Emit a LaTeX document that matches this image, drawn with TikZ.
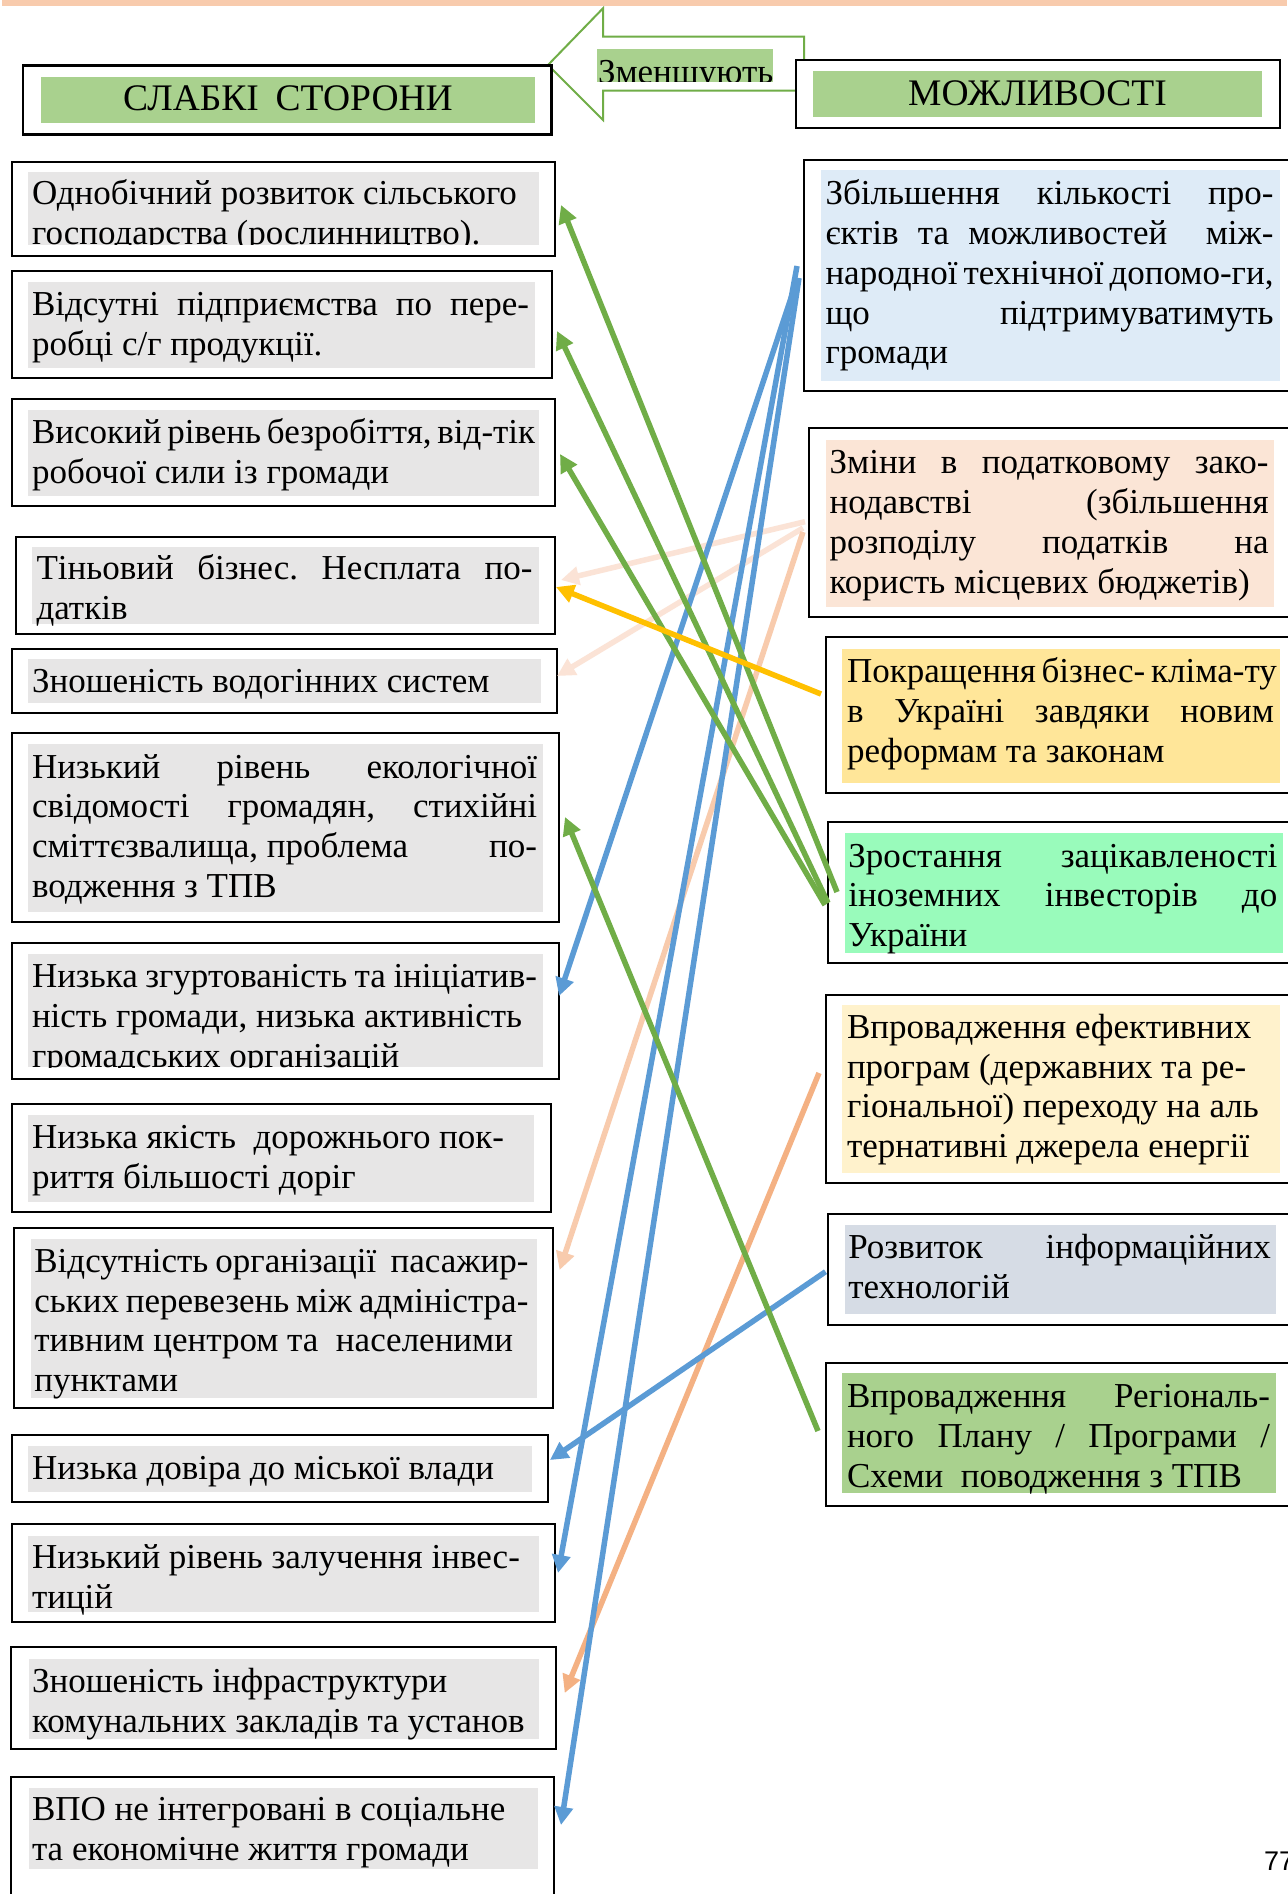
\documentclass[tikz,border=0pt]{standalone}
\usepackage{fontspec}
\setmainfont{Liberation Serif}
\newfontfamily\pnfont{Liberation Sans}
\usetikzlibrary{arrows.meta}
\frenchspacing
\definecolor{grayfill}{HTML}{E7E6E6}
\definecolor{hdrgreen}{HTML}{A9D18E}
\definecolor{lblue}{HTML}{DEEBF7}
\definecolor{lpeach}{HTML}{FBE5D6}
\definecolor{gold}{HTML}{FFE699}
\definecolor{mint}{HTML}{99FBBB}
\definecolor{lyellow}{HTML}{FFF2CC}
\definecolor{bluegray}{HTML}{D6DCE5}
\definecolor{agreen}{HTML}{70AD47}
\definecolor{ablue}{HTML}{5B9BD5}
\definecolor{apale}{HTML}{FBE3D6}
\definecolor{apeach}{HTML}{F8CBAD}
\definecolor{aorange}{HTML}{F4B183}
\definecolor{ayellow}{HTML}{FFC000}
\definecolor{band}{HTML}{F8CBAD}
\newlength\tw
\newcommand\myJ[1]{\hbox to\tw{#1}}
\newcommand\myL[1]{\hbox to\tw{#1\hfil}}
\newcommand\tblock[3][40]{\vtop{\frenchspacing\tw=#2pt\relax\hsize=\tw\baselineskip=#1pt\lineskiplimit=-100pt\relax #3}}
\tikzset{
  obox/.style={draw=black, line width=2pt, fill=white, anchor=north west, inner sep=0pt, outer sep=0pt},
  hbox/.style={draw=black, line width=2.6pt, fill=white, anchor=north west, inner sep=0pt, outer sep=0pt},
  txt/.style={anchor=base west, inner sep=0pt, outer sep=0pt, yshift=-2pt, font=\fontsize{35}{40}\selectfont},
  conn/.style={line width=5.5pt, -{Triangle[length=18pt,width=18pt]}},
}
\begin{document}
\begin{tikzpicture}[x=1pt,y=-1pt]
\useasboundingbox (0,0) rectangle (1287,1894);
\fill[white] (0,0) rectangle (1287,1894);
\fill[band] (2,0) rectangle (1287,6);

% ---- header arrow
\draw[agreen, line width=2pt, fill=white, line join=miter]
  (548,65) -- (603,8.3) -- (603,36.7) -- (804,36.7) -- (804,90.7) -- (603,90.7) -- (603,120) -- cycle;
\fill[hdrgreen] (597,49) rectangle (773,82);
\begin{scope}
  \clip (597,49) rectangle (773,82);
  \node[txt, yshift=2pt] (zm) at (598,84) {Зменшують};
\end{scope}

% ---- headers
\node[hbox, minimum width=528.6pt, minimum height=68.6pt] (HL) at (23,65.7) {};
\fill[hdrgreen] (41,76.7) rectangle (535,123.3);
\node[anchor=base, inner sep=0pt, font=\fontsize{37.5}{40}\selectfont] (HLt) at (288,111) {СЛАБКІ\hspace{0.45em}СТОРОНИ};

\node[hbox, minimum width=484pt, minimum height=68pt] (HR) at (796,60) {};
\fill[hdrgreen] (812.6,70.7) rectangle (1262,116.7);
\node[anchor=base, inner sep=0pt, font=\fontsize{37.5}{40}\selectfont] (HRt) at (1037.5,106) {МОЖЛИВОСТІ};

% ---- left column
% L1
\node[obox, minimum width=543.1pt, minimum height=94pt] (L1) at (11.6,161.7) {};
\fill[grayfill] (28,172) rectangle (539,245);
\begin{scope}\clip (28,172) rectangle (539,245);
\node[txt] (L1t) at (32,203) {\tblock{503}{\myL{Однобічний розвиток сільського}\myL{господарства (рослинництво).}}};
\end{scope}
% L2
\node[obox, minimum width=539.9pt, minimum height=107pt] (L2) at (11.6,271) {};
\fill[grayfill] (28,281.7) rectangle (535,367.7);
\node[txt] (L2t) at (32,313) {\tblock{497}{\myJ{Відсутні підприємства по пере-}\myL{робці с/г продукції.}}};
% L3
\node[obox, minimum width=543.1pt, minimum height=107pt] (L3) at (11.6,399) {};
\fill[grayfill] (28,410) rectangle (539,496);
\node[txt] (L3t) at (32,441.7) {\tblock{502}{\myJ{Високий рівень безробіття, від-тік}\myL{робочої сили із громади}}};
% L4
\node[obox, minimum width=538.9pt, minimum height=97.3pt] (L4) at (15.8,536.7) {};
\fill[grayfill] (32,547) rectangle (539,624);
\node[txt] (L4t) at (36.5,577) {\tblock{496}{\myJ{Тіньовий бізнес. Несплата по-}\myL{датків}}};
% L5
\node[obox, minimum width=545.1pt, minimum height=63.7pt] (L5) at (11.6,649) {};
\fill[grayfill] (28,659) rectangle (541,702.7);
\node[txt] (L5t) at (32,690.7) {\tblock{505}{\myL{Зношеність водогінних систем}}};
% L6
\node[obox, minimum width=547.2pt, minimum height=188.7pt] (L6) at (11.6,733) {};
\fill[grayfill] (28,744) rectangle (543,911.7);
\node[txt] (L6t) at (32,776) {\tblock[39.7]{505}{\myJ{Низький рівень екологічної}\myJ{свідомості громадян, стихійні}\myJ{сміттєзвалища,\hspace{0.25em}проблема по-}\myL{водження з ТПВ}}};
% L7
\node[obox, minimum width=547.2pt, minimum height=136pt] (L7) at (11.6,942.7) {};
\fill[grayfill] (28,954) rectangle (543,1067);
\begin{scope}\clip (28,954) rectangle (543,1067);
\node[txt] (L7t) at (32,985) {\tblock{505}{\myJ{Низька згуртованість та ініціатив-}\myL{ність громади, низька активність}\myL{громадських організацій}}};
\end{scope}
% L8
\node[obox, minimum width=538.9pt, minimum height=107.7pt] (L8) at (11.6,1104) {};
\fill[grayfill] (28,1115) rectangle (534,1201.7);
\node[txt] (L8t) at (32,1146.7) {\tblock{500}{\myL{Низька якість~ дорожнього пок-}\myL{риття більшості доріг}}};
% L9
\node[obox, minimum width=538.8pt, minimum height=180.3pt] (L9) at (13.7,1227.7) {};
\fill[grayfill] (31,1239) rectangle (537,1397.7);
\node[txt] (L9t) at (34.4,1270.7) {\tblock[39.5]{494}{\myL{Відсутність організації~ пасажир-}\myL{ських перевезень між адміністра-}\myL{тивним центром та~ населеними}\myL{пунктами}}};
% L10
\node[obox, minimum width=536.8pt, minimum height=66.7pt] (L10) at (11.6,1435) {};
\fill[grayfill] (28,1446) rectangle (532,1491.7);
\node[txt] (L10t) at (32,1477.7) {\tblock{500}{\myL{Низька довіра до міської влади}}};
% L11
\node[obox, minimum width=543.1pt, minimum height=97.7pt] (L11) at (11.6,1524) {};
\fill[grayfill] (28,1536) rectangle (539,1611.7);
\node[txt] (L11t) at (32,1566) {\tblock{505}{\myL{Низький рівень залучення інвес-}\myL{тицій}}};
% L12
\node[obox, minimum width=545pt, minimum height=102pt] (L12) at (10.7,1647) {};
\fill[grayfill] (28.7,1659) rectangle (539,1739);
\node[txt] (L12t) at (32,1690) {\tblock{505}{\myL{Зношеність інфраструктури}\myL{комунальних закладів та установ}}};
% L13
\node[obox, minimum width=543.3pt, minimum height=140pt] (L13) at (10.7,1777) {};
\fill[grayfill] (28.7,1788) rectangle (537.6,1869);
\node[txt] (L13t) at (32,1818) {\tblock{505}{\myL{ВПО не інтегровані в соціальне}\myL{та економічне життя громади}}};

% ---- right column
% R1
\node[obox, minimum width=500pt, minimum height=230.7pt] (R1) at (804.4,160) {};
\fill[lblue] (820.6,170) rectangle (1279.7,380.7);
\node[txt] (R1t) at (825.5,203) {\tblock[39.7]{448}{\myJ{Збільшення кількості про-}\myJ{єктів та можливостей~ між-}\myJ{народної технічної допомо-ги,}\myJ{що підтримуватимуть}\myL{громади}}};
% R2
\node[obox, minimum width=500pt, minimum height=189pt] (R2) at (808.5,428.3) {};
\fill[lpeach] (825.5,440) rectangle (1273.7,606.7);
\node[txt] (R2t) at (829.6,471.7) {\tblock{439}{\myJ{Зміни в податковому зако-}\myJ{нодавстві (збільшення}\myJ{розподілу податків на}\myL{користь місцевих бюджетів)}}};
% R3
\node[obox, minimum width=500pt, minimum height=156pt] (R3) at (825.5,637.3) {};
\fill[gold] (841.8,649) rectangle (1279.7,782.7);
\node[txt] (R3t) at (847,680) {\tblock{427}{\myJ{Покращення бізнес- кліма-ту}\myJ{в Україні завдяки новим}\myL{реформам та законам}}};
% R4
\node[obox, minimum width=500pt, minimum height=141pt] (R4) at (827.6,822.3) {};
\fill[mint] (845,833.3) rectangle (1283,952.7);
\node[txt] (R4t) at (848.3,865) {\tblock[39.5]{429}{\myJ{Зростання зацікавленості}\myJ{іноземних інвесторів до}\myL{України}}};
% R5
\node[obox, minimum width=500pt, minimum height=188.1pt] (R5) at (825.5,994.6) {};
\fill[lyellow] (841.8,1005) rectangle (1279.7,1172.7);
\node[txt] (R5t) at (847,1036.7) {\tblock[39.5]{427}{\myL{Впровадження ефективних}\myL{програм (державних та ре-}\myL{гіональної) переходу на аль}\myL{тернативні джерела енергії}}};
% R6
\node[obox, minimum width=500pt, minimum height=111pt] (R6) at (827.6,1214) {};
\fill[bluegray] (845,1225) rectangle (1275.7,1314.3);
\node[txt] (R6t) at (848.3,1256) {\tblock{422.5}{\myJ{Розвиток інформаційних}\myL{технологій}}};
% R7
\node[obox, minimum width=500pt, minimum height=143.3pt] (R7) at (825.5,1362.7) {};
\fill[hdrgreen] (841.8,1373) rectangle (1275.7,1492.7);
\node[txt] (R7t) at (847,1405) {\tblock{423}{\myJ{Впровадження Регіональ-}\myJ{ного Плану / Програми /}\myL{Схеми~ поводження з ТПВ}}};

% ---- connector end points
\coordinate (R4a) at (837,892);
\coordinate (R4b) at (828,903);
\coordinate (R4c) at (825,905);
\coordinate (R7a) at (818,1431);
\coordinate (R1a) at (797,280);
\coordinate (R1b) at (797,266);
\coordinate (R1c) at (799,278);
\coordinate (R6a) at (825.5,1271.7);
\coordinate (R2a) at (805,521.7);
\coordinate (R2b) at (803,528);
\coordinate (R2c) at (803,532);
\coordinate (R5a) at (819,1073);
\coordinate (R3a) at (821,694);
\coordinate (L1in) at (561,205);
\coordinate (L2in) at (557,331);
\coordinate (L3in) at (560,454);
\coordinate (L4in) at (561,580);
\coordinate (L4in2) at (556,587);
\coordinate (L5in) at (557,676);
\coordinate (L6in) at (565,817);
\coordinate (L7in) at (559,996);
\coordinate (L9in) at (559.6,1270);
\coordinate (L10in) at (550,1460);
\coordinate (L11in) at (558,1573);
\coordinate (L12in) at (564.7,1693);
\coordinate (L13in) at (561,1825);

% ---- connectors
\draw[conn, apale] (R2a) -- (L4in);
\draw[conn, apale] (R2b) -- (L5in);
\draw[conn, apeach] (R2c) -- (L9in);
\draw[conn, aorange] (R5a) -- (L12in);
\draw[conn, ablue] (R1a) -- (L7in);
\draw[conn, ablue] (R1b) -- (L11in);
\draw[conn, ablue] (R1c) -- (L13in);
\draw[conn, ablue] (R6a) -- (L10in);
\draw[conn, agreen] (R4a) -- (L1in);
\draw[conn, agreen] (R4b) -- (L2in);
\draw[conn, agreen] (R4c) -- (L3in);
\draw[conn, agreen] (R7a) -- (L6in);
\draw[conn, ayellow] (R3a) -- (L4in2);

% page number
\node[anchor=base west, inner sep=0pt, font=\pnfont\fontsize{27}{30}\selectfont] (pg) at (1264,1870) {77};
\end{tikzpicture}
\end{document}
